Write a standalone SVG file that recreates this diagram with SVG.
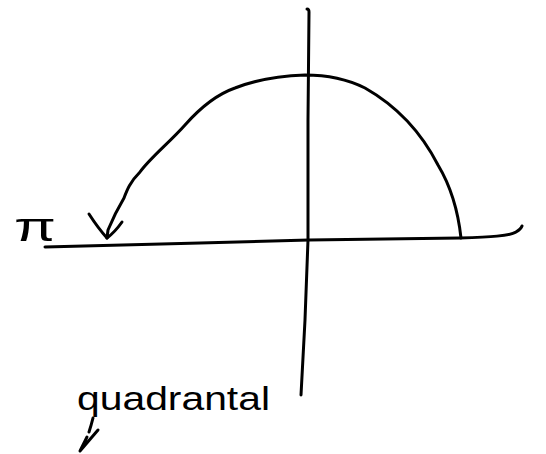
<svg xmlns="http://www.w3.org/2000/svg" width="546" height="454" viewBox="0 0 546 454">
<style>
.s{fill:none;stroke:#000;stroke-width:3;stroke-linecap:round;stroke-linejoin:round}
.t{font-family:"Liberation Sans","DejaVu Sans",sans-serif;fill:#000}
</style>
<rect width="546" height="454" fill="#fff"/>
<g id="axes">
<path class="s" d="M45,247 L200,243 L309,240 L460,238 C490,237 510,236 516,232 Q521,229 522,226"/>
<path class="s" d="M307,9 Q309,9 309,12 L308,120 L308,240 L305,320 L301,395"/>
</g>
<g id="curve">
<path class="s" d="M461,238 C458,210 450,185 438,165 C420,130 395,105 365,88 C345,78 325,75 305,75 C280,76 255,80 235,88 C215,95 200,108 185,125 C170,142 150,158 140,172 C130,182 127,190 124,198 C118,208 113,218 108,230 L107,238"/>
<path class="s" d="M89,214 Q98,228 107,238 Q115,232 122,222"/>
</g>
<g id="pi-label">
<text class="t" x="14" y="241" font-size="40" textLength="42" lengthAdjust="spacingAndGlyphs">π</text>
</g>
<g id="quadrantal-label">
<text class="t" x="77" y="410" font-size="33" textLength="193" lengthAdjust="spacingAndGlyphs">quadrantal</text>
<path class="s" d="M93,418 Q91,426 89,432 M98,430 L80,451 L87,437"/>
</g>
</svg>
